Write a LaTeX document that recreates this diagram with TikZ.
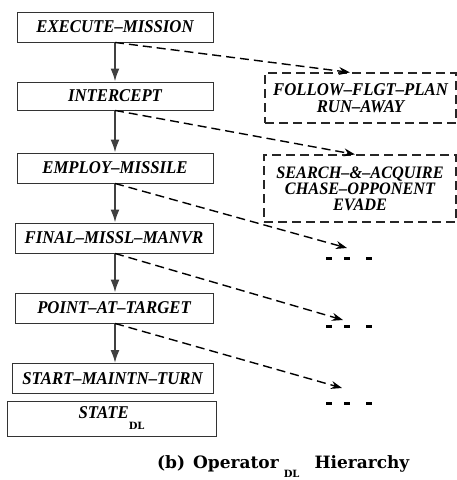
\documentclass[tikz,border=0pt]{standalone}
\usepackage{fontspec}
\setmainfont{Liberation Serif}[UprightFont=*, BoldFont=* Bold, ItalicFont=* Italic, BoldItalicFont=* Bold Italic]
\newfontfamily\capfont{DejaVu Serif}
\usetikzlibrary{arrows.meta,calc}
\newcommand{\bxt}[1]{\scalebox{0.93}[1]{#1}}
\begin{document}
\begin{tikzpicture}[x=1pt,y=-1pt,
  opbox/.style={draw=black!80, line width=0.9pt, minimum width=196pt, minimum height=30pt, inner sep=0pt,
    font=\fontsize{18}{18}\selectfont\bfseries\itshape},
  altbox/.style={draw=black!85, line width=1.2pt, dash pattern=on 9pt off 5pt, align=center, inner sep=0pt},
  down/.style={draw=black!75, line width=2pt, -{Latex[length=13pt,width=9pt]}},
  dasharrow/.style={line width=1.4pt, dash pattern=on 9pt off 5pt, -{Stealth[length=11pt,width=8pt]}},
  dots/.style={inner sep=0pt},
]
\useasboundingbox (0,0) rectangle (457,480);

\node[opbox] (e1) at (115,27) {\bxt{EXECUTE–MISSION}};
\node[opbox, minimum height=28pt] (e2) at (115,96) {\bxt{INTERCEPT}};
\node[opbox] (e3) at (115,168) {\bxt{EMPLOY–MISSILE}};
\node[opbox, minimum width=198pt] (e4) at (114,238) {\bxt{FINAL–MISSL–MANVR}};
\node[opbox, minimum width=198pt] (e5) at (114,308) {\bxt{POINT–AT–TARGET}};
\node[opbox, minimum width=201pt] (e6) at (112.5,378.5) {\bxt{START–MAINTN–TURN}};
\node[opbox, minimum width=209pt, minimum height=35pt] (e7) at (111.5,418.5)
  {\bxt{STATE}\raisebox{-11pt}{\capfont\upshape\bfseries\fontsize{10}{10}\selectfont DL}};

\node[altbox, minimum width=191pt, minimum height=50pt, font=\fontsize{18}{17}\selectfont\bfseries\itshape]
  (fol) at (360.5,98) {\bxt{FOLLOW–FLGT–PLAN}\\\bxt{RUN–AWAY}};
\node[altbox, minimum width=192pt, minimum height=67pt, font=\fontsize{17.5}{16}\selectfont\bfseries\itshape]
  (sea) at (360,188.5) {\bxt{SEARCH–\&–ACQUIRE}\\\bxt{CHASE–OPPONENT}\\\bxt{EVADE}};

\node[dots] (d1) at (349,258) {\rule{6pt}{3pt}\hspace{12pt}\rule{6pt}{3pt}\hspace{16pt}\rule{6pt}{3pt}};
\node[dots] (d2) at (349,326) {\rule{6pt}{3pt}\hspace{12pt}\rule{6pt}{3pt}\hspace{16pt}\rule{6pt}{3pt}};
\node[dots] (d3) at (349,403) {\rule{6pt}{3pt}\hspace{12pt}\rule{6pt}{3pt}\hspace{16pt}\rule{6pt}{3pt}};

\draw[down] (e1.south) -- (e2.north);
\draw[down] (e2.south) -- (e3.north);
\draw[down] (e3.south) -- (e4.north -| e3.south);
\draw[down] (e4.south -| e3.south) -- (e5.north -| e3.south);
\draw[down] (e5.south -| e3.south) -- (e6.north -| e3.south);

\draw[dasharrow] (e1.south) -- ($(fol.north west)!0.445!(fol.north east)$);
\draw[dasharrow] (e2.south) -- ($(sea.north west)!0.474!(sea.north east)$);
\draw[dasharrow] (e3.south) -- ($(d1.center)+(-2,-10)$);
\draw[dasharrow] (e4.south -| e3.south) -- ($(d2.center)+(-6,-6)$);
\draw[dasharrow] (e5.south -| e3.south) -- ($(d3.center)+(-7,-15)$);

\node[anchor=base west, inner sep=0pt, font=\capfont\bfseries\fontsize{17}{20}\selectfont] (cap) at (157,468)
  {(b)\hspace{8pt}Operator\hspace{5pt}\raisebox{-9pt}{\fontsize{10}{10}\selectfont DL}\hspace{15pt}Hierarchy};
\end{tikzpicture}
\end{document}
